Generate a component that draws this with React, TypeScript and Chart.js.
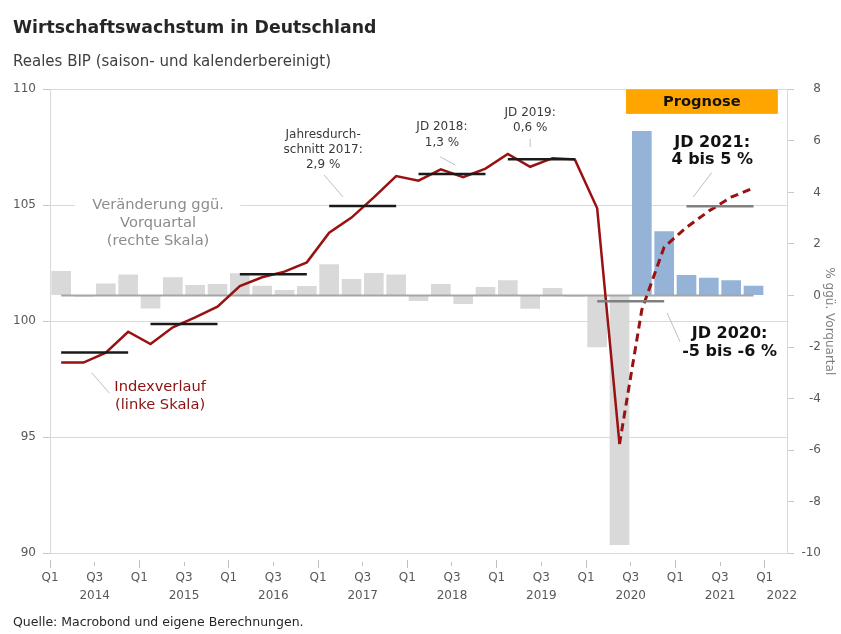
import React, { useEffect, useRef } from "react";
import { Chart, registerables } from "chart.js";

Chart.register(...registerables);

const FONT = "'DejaVu Sans', Verdana, sans-serif";

// ---------- data ----------
const quarters = [
  "2014 Q1", "2014 Q2", "2014 Q3", "2014 Q4",
  "2015 Q1", "2015 Q2", "2015 Q3", "2015 Q4",
  "2016 Q1", "2016 Q2", "2016 Q3", "2016 Q4",
  "2017 Q1", "2017 Q2", "2017 Q3", "2017 Q4",
  "2018 Q1", "2018 Q2", "2018 Q3", "2018 Q4",
  "2019 Q1", "2019 Q2", "2019 Q3", "2019 Q4",
  "2020 Q1", "2020 Q2", "2020 Q3", "2020 Q4",
  "2021 Q1", "2021 Q2", "2021 Q3", "2021 Q4",
];

// % change vs. previous quarter (right axis)
const growthPct = [
  0.95, -0.05, 0.47, 0.82,
  -0.5, 0.71, 0.41, 0.45,
  0.86, 0.38, 0.21, 0.37,
  1.21, 0.64, 0.87, 0.82,
  -0.21, 0.45, -0.33, 0.33,
  0.59, -0.51, 0.29, -0.05,
  -2.01, -9.68, 6.38, 2.49,
  0.8, 0.69, 0.59, 0.38,
];
const firstForecastQuarter = 26; // 2020 Q3

// index level (left axis), 2014 Q1 .. 2020 Q2
const indexActual = [
  98.22, 98.22, 98.65, 99.55,
  99.02, 99.74, 100.17, 100.63,
  101.52, 101.9, 102.14, 102.54,
  103.82, 104.47, 105.34, 106.26,
  106.06, 106.55, 106.21, 106.58,
  107.21, 106.66, 107.03, 106.98,
  104.87, 94.71,
];
// forecast index, 2020 Q2 .. 2021 Q4
const forecastFromQuarter = 25;
const indexForecast = [94.71, 100.5, 103.2, 104.05, 104.75, 105.35, 105.75];

// annual averages of the index
const avgYears = ["2014", "2015", "2016", "2017", "2018", "2019", "2020", "2021"];
const annualAvg = [98.66, 99.88, 102.03, 104.97, 106.35, 106.98, 100.86, 104.96];
const firstForecastYear = 6;

const xTickLabels = [
  ["Q1"], ["Q3", "2014"], ["Q1"], ["Q3", "2015"], ["Q1"], ["Q3", "2016"],
  ["Q1"], ["Q3", "2017"], ["Q1"], ["Q3", "2018"], ["Q1"], ["Q3", "2019"],
  ["Q1"], ["Q3", "2020"], ["Q1"], ["Q3", "2021"], ["Q1", "2022"],
];

// annotation texts (x in quarters from 2014 Q1, y on left axis)
const notes = [
  { lines: ["Veränderung ggü.", "Vorquartal", "(rechte Skala)"], x: 4.84, y: 105.01, gap: 18.2, size: 14.67, bold: false, color: "#8c8c8c" },
  { lines: ["Indexverlauf", "(linke Skala)"], x: 4.93, y: 97.18, gap: 18.6, size: 14.67, bold: false, color: "#8b1010" },
  { lines: ["Jahresdurch-", "schnitt 2017:", "2,9 %"], x: 12.23, y: 108.02, gap: 14.8, size: 12, bold: false, color: "#3a3a3a" },
  { lines: ["JD 2018:", "1,3 %"], x: 17.55, y: 108.39, gap: 16, size: 12, bold: false, color: "#3a3a3a" },
  { lines: ["JD 2019:", "0,6 %"], x: 21.5, y: 108.97, gap: 14.8, size: 12, bold: false, color: "#3a3a3a" },
  { lines: ["JD 2021:", "4 bis 5 %"], x: 29.65, y: 107.71, gap: 17.7, size: 16, bold: true, color: "#111111" },
  { lines: ["JD 2020:", "-5 bis -6 %"], x: 30.43, y: 99.44, gap: 17.6, size: 16, bold: true, color: "#111111" },
];
const leaders = [
  [1.87, 97.78, 2.66, 96.9],
  [12.27, 106.31, 13.12, 105.36],
  [17.47, 107.09, 18.14, 106.74],
  [21.5, 107.86, 21.5, 107.51],
  [29.63, 106.41, 28.8, 105.36],
  [27.63, 100.36, 28.21, 99.12],
];
const knockout = { x0: 1.12, x1: 8.51, y0: 104.6, y1: 105.4 };
const prognose = { text: "Prognose", x0: 25.79, x1: 32.59, y0: 108.94, y1: 110 };

const qPos = (i: number) => i + 0.5;

const notesPlugin = {
  id: "notes",
  afterDatasetsDraw(chart: any) {
    const { ctx } = chart;
    const xs = chart.scales.x;
    const ys = chart.scales.y;
    const px = (v: number) => xs.getPixelForValue(v);
    const py = (v: number) => ys.getPixelForValue(v);
    ctx.save();
    // white knock-out behind grey label
    ctx.fillStyle = "#ffffff";
    ctx.fillRect(px(knockout.x0), py(knockout.y1), px(knockout.x1) - px(knockout.x0), py(knockout.y0) - py(knockout.y1));
    // Prognose box
    ctx.fillStyle = "#ffa500";
    ctx.fillRect(px(prognose.x0), py(prognose.y1), px(prognose.x1) - px(prognose.x0), py(prognose.y0) - py(prognose.y1));
    ctx.fillStyle = "#111111";
    ctx.font = `bold 14.67px ${FONT}`;
    ctx.textAlign = "center";
    ctx.textBaseline = "middle";
    ctx.fillText(prognose.text, (px(prognose.x0) + px(prognose.x1)) / 2, (py(prognose.y0) + py(prognose.y1)) / 2 + 0.5);
    // leader lines
    ctx.strokeStyle = "#bfbfbf";
    ctx.lineWidth = 1;
    for (const l of leaders) {
      ctx.beginPath();
      ctx.moveTo(px(l[0]), py(l[1]));
      ctx.lineTo(px(l[2]), py(l[3]));
      ctx.stroke();
    }
    // texts
    for (const n of notes) {
      ctx.font = `${n.bold ? "bold " : ""}${n.size}px ${FONT}`;
      ctx.fillStyle = n.color;
      n.lines.forEach((t, i) => ctx.fillText(t, px(n.x), py(n.y) + i * n.gap));
    }
    ctx.restore();
  },
};

export default function App() {
  const ref = useRef<HTMLCanvasElement | null>(null);

  useEffect(() => {
    if (!ref.current) return;
    const avgSets = annualAvg.map((v, j) => ({
      type: "line" as const,
      label: "JD " + avgYears[j],
      yAxisID: "y",
      data: [
        { x: qPos(j * 4), y: v },
        { x: qPos(j * 4 + 3), y: v },
      ],
      borderColor: j >= firstForecastYear ? "#808080" : "#1a1a1a",
      borderWidth: 2.5,
      pointRadius: 0,
      fill: false,
      order: 1,
    }));

    const chart = new Chart(ref.current, {
      type: "bar",
      data: {
        datasets: [
          {
            type: "bar",
            label: "Veränderung ggü. Vorquartal",
            yAxisID: "y1",
            data: growthPct.map((v, i) => ({ x: qPos(i), y: v })),
            backgroundColor: quarters.map((_, i) => (i >= firstForecastQuarter ? "#95b3d7" : "#d9d9d9")),
            borderWidth: 0,
            barPercentage: 0.88,
            categoryPercentage: 1,
            order: 10,
          },
          {
            type: "line",
            label: "Null",
            yAxisID: "y1",
            data: quarters.map((_, i) => ({ x: qPos(i), y: 0 })),
            borderColor: "#a6a6a6",
            borderWidth: 2,
            pointRadius: 0,
            fill: false,
            order: 5,
          },
          {
            type: "line",
            label: "Indexverlauf",
            yAxisID: "y",
            data: indexActual.map((v, i) => ({ x: qPos(i), y: v })),
            borderColor: "#991111",
            borderWidth: 2.5,
            pointRadius: 0,
            tension: 0,
            fill: false,
            order: 3,
          },
          {
            type: "line",
            label: "Prognose",
            yAxisID: "y",
            data: indexForecast.map((v, i) => ({ x: qPos(forecastFromQuarter + i), y: v })),
            borderColor: "#991111",
            borderWidth: 3,
            borderDash: [8, 5],
            pointRadius: 0,
            tension: 0,
            fill: false,
            order: 3,
          },
          ...avgSets,
        ] as any,
      },
      options: {
        responsive: false,
        animation: false,
        events: [],
        layout: { padding: { top: 89.3, left: 0, right: 20, bottom: 0 } },
        plugins: {
          legend: { display: false },
          tooltip: { enabled: false },
        },
        scales: {
          x: {
            type: "linear",
            min: 0,
            max: 33,
            offset: false,
            afterBuildTicks: (s: any) => {
              s.ticks = xTickLabels.map((_, i) => ({ value: i * 2 }));
            },
            afterFit: (s: any) => {
              s.height = 80.7;
            },
            grid: {
              display: true,
              offset: false,
              drawOnChartArea: false,
              drawTicks: true,
              tickLength: 15,
              tickColor: "#bfbfbf",
              tickWidth: 1,
              tickBorderDash: (c: any) => (c.tick && c.tick.value % 4 === 0 ? [0, 7, 8, 40] : [0, 9, 4, 40]),
            },
            border: { display: false },
            ticks: {
              autoSkip: false,
              maxRotation: 0,
              minRotation: 0,
              padding: 1,
              color: "#595959",
              font: { family: FONT, size: 12, lineHeight: 1.5 },
              callback: (_v: any, i: number) => {
                const lab = xTickLabels[i];
                if (!lab) return "";
                if (i === xTickLabels.length - 1 && lab.length > 1) {
                  return [lab[0], "\u00a0".repeat(9) + lab[1]];
                }
                return lab;
              },
            },
          },
          y: {
            type: "linear",
            position: "left",
            min: 90,
            max: 110,
            afterFit: (s: any) => {
              s.width = 50;
            },
            ticks: {
              stepSize: 5,
              padding: 7,
              color: "#595959",
              font: { family: FONT, size: 12 },
              callback: (v: any) => String(v),
            },
            grid: {
              color: "#d9d9d9",
              lineWidth: 1,
              drawTicks: true,
              tickLength: 7,
              tickColor: "#c8c8c8",
            },
            border: { display: true, color: "#d9d9d9", width: 1 },
          },
          y1: {
            type: "linear",
            position: "right",
            min: -10,
            max: 8,
            afterFit: (s: any) => {
              s.width = 34;
            },
            ticks: {
              stepSize: 2,
              padding: 7,
              crossAlign: "far",
              color: "#595959",
              font: { family: FONT, size: 12 },
              callback: (v: any) => String(v),
            },
            grid: {
              drawOnChartArea: false,
              drawTicks: true,
              tickLength: 7,
              tickColor: "#c8c8c8",
            },
            border: { display: true, color: "#d9d9d9", width: 1 },
            title: {
              display: true,
              text: "% ggü. Vorquartal",
              color: "#7f7f7f",
              font: { family: FONT, size: 12 },
              padding: { top: -15, bottom: 4 },
            },
          },
        },
      } as any,
      plugins: [notesPlugin],
    });
    return () => chart.destroy();
  }, []);

  return (
    <div style={{ position: "absolute", left: 0, top: 0, width: 841, height: 634, background: "#ffffff", overflow: "hidden" }}>
      <canvas ref={ref} width={841} height={634} style={{ position: "absolute", left: 0, top: 0, width: 841, height: 634 }} />
      <div style={{ position: "absolute", left: 13, top: 17.3, font: `bold 17.3px ${FONT}`, lineHeight: "20px", color: "#262626", whiteSpace: "nowrap" }}>
        Wirtschaftswachstum in Deutschland
      </div>
      <div style={{ position: "absolute", left: 13, top: 51.5, font: `15px ${FONT}`, lineHeight: "18px", color: "#404040", whiteSpace: "nowrap" }}>
        Reales BIP (saison- und kalenderbereinigt)
      </div>
      <div style={{ position: "absolute", left: 13, top: 613.7, font: `12.5px ${FONT}`, lineHeight: "16px", color: "#262626", whiteSpace: "nowrap" }}>
        Quelle: Macrobond und eigene Berechnungen.
      </div>
    </div>
  );
}
